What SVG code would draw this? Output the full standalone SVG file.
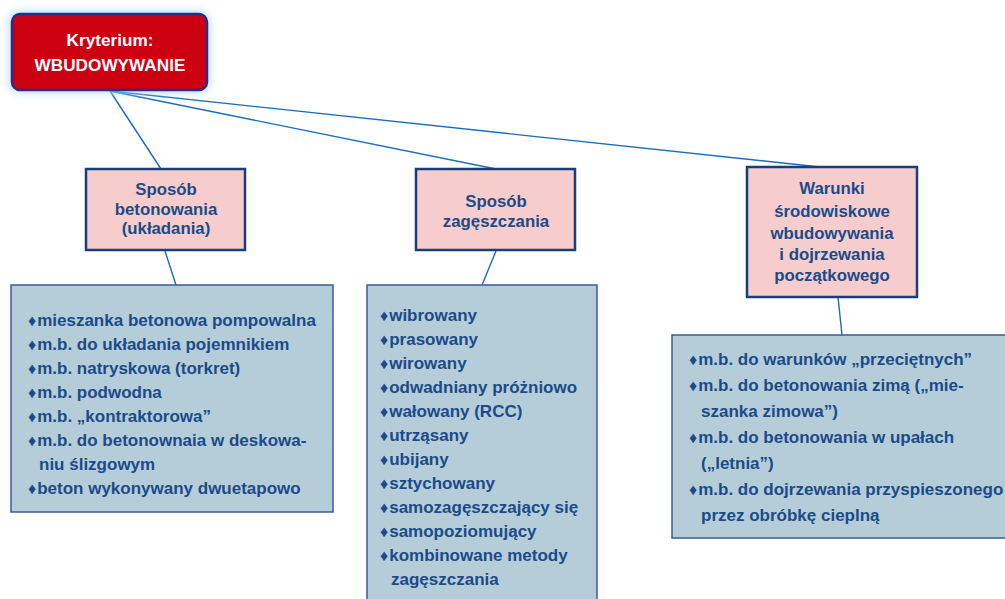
<svg xmlns="http://www.w3.org/2000/svg" width="1005" height="599" viewBox="0 0 1005 599">
<style>
text{font-family:"Liberation Sans",Arial,sans-serif;font-weight:bold;}
.t{fill:#ffffff;font-size:17.2px;text-anchor:middle;}
.h{fill:#1b4b88;font-size:16.8px;text-anchor:middle;}
.l{fill:#1b4b88;font-size:17px;}
.b{font-size:16px;}
.cat{fill:#f6cdcc;stroke:#173f7e;stroke-width:2.5;}
.lst{fill:#b5cdd9;stroke:#3a5c94;stroke-width:1.5;}
.c{stroke:#1a6dbd;stroke-width:1.4;fill:none;}
</style>
<defs>
<filter id="glow" x="-20%" y="-40%" width="140%" height="180%">
<feGaussianBlur stdDeviation="5"/>
</filter>
</defs>
<rect width="1005" height="599" fill="#ffffff"/>
<g id="connectors">
<line class="c" x1="110" y1="91" x2="161" y2="169"/>
<line class="c" x1="110" y1="91" x2="496" y2="169"/>
<line class="c" x1="110" y1="91" x2="820" y2="167"/>
<line class="c" x1="165" y1="251" x2="176" y2="285"/>
<line class="c" x1="496" y1="251" x2="482" y2="285"/>
<line class="c" x1="838" y1="297" x2="842" y2="335"/>
</g>
<g id="root">
<rect x="10" y="12" width="199" height="80" rx="9" fill="#a9dcf7" filter="url(#glow)"/>
<rect x="12" y="14" width="195" height="76" rx="8" fill="#cc0011" stroke="#2d2a88" stroke-width="2.5"/>
<text class="t" x="110" y="46">Kryterium:</text>
<text class="t" x="110" y="71">WBUDOWYWANIE</text>
</g>
<g id="cat1">
<rect class="cat" x="86" y="169" width="159" height="81"/>
<text class="h" x="166" y="195">Sposób</text>
<text class="h" x="166" y="215">betonowania</text>
<text class="h" x="166" y="234">(układania)</text>
</g>
<g id="cat2">
<rect class="cat" x="416" y="169" width="159" height="81"/>
<text class="h" x="496" y="207">Sposób</text>
<text class="h" x="496" y="227">zagęszczania</text>
</g>
<g id="cat3">
<rect class="cat" x="747" y="167" width="170" height="130"/>
<text class="h" x="832" y="194">Warunki</text>
<text class="h" x="832" y="217">środowiskowe</text>
<text class="h" x="832" y="239">wbudowywania</text>
<text class="h" x="832" y="260">i dojrzewania</text>
<text class="h" x="832" y="281">początkowego</text>
</g>
<g id="list1">
<rect class="lst" x="11" y="285" width="322" height="227"/>
<text class="l" x="28" y="326"><tspan class="b">♦</tspan><tspan dx="1">mieszanka betonowa pompowalna</tspan></text>
<text class="l" x="28" y="350"><tspan class="b">♦</tspan><tspan dx="1">m.b. do układania pojemnikiem</tspan></text>
<text class="l" x="28" y="374"><tspan class="b">♦</tspan><tspan dx="1">m.b. natryskowa (torkret)</tspan></text>
<text class="l" x="28" y="398"><tspan class="b">♦</tspan><tspan dx="1">m.b. podwodna</tspan></text>
<text class="l" x="28" y="422"><tspan class="b">♦</tspan><tspan dx="1">m.b. „kontraktorowa”</tspan></text>
<text class="l" x="28" y="446"><tspan class="b">♦</tspan><tspan dx="1">m.b. do betonownaia w deskowa-</tspan></text>
<text class="l" x="39" y="470">niu ślizgowym</text>
<text class="l" x="28" y="494"><tspan class="b">♦</tspan><tspan dx="1">beton wykonywany dwuetapowo</tspan></text>
</g>
<g id="list2">
<rect class="lst" x="367" y="285" width="230" height="330"/>
<text class="l" x="380" y="321"><tspan class="b">♦</tspan><tspan dx="1">wibrowany</tspan></text>
<text class="l" x="380" y="345"><tspan class="b">♦</tspan><tspan dx="1">prasowany</tspan></text>
<text class="l" x="380" y="369"><tspan class="b">♦</tspan><tspan dx="1">wirowany</tspan></text>
<text class="l" x="380" y="393"><tspan class="b">♦</tspan><tspan dx="1">odwadniany próżniowo</tspan></text>
<text class="l" x="380" y="417"><tspan class="b">♦</tspan><tspan dx="1">wałowany (RCC)</tspan></text>
<text class="l" x="380" y="441"><tspan class="b">♦</tspan><tspan dx="1">utrząsany</tspan></text>
<text class="l" x="380" y="465"><tspan class="b">♦</tspan><tspan dx="1">ubijany</tspan></text>
<text class="l" x="380" y="489"><tspan class="b">♦</tspan><tspan dx="1">sztychowany</tspan></text>
<text class="l" x="380" y="513"><tspan class="b">♦</tspan><tspan dx="1">samozagęszczający się</tspan></text>
<text class="l" x="380" y="537"><tspan class="b">♦</tspan><tspan dx="1">samopoziomujący</tspan></text>
<text class="l" x="380" y="561"><tspan class="b">♦</tspan><tspan dx="1">kombinowane metody</tspan></text>
<text class="l" x="391" y="585">zagęszczania</text>
</g>
<g id="list3">
<rect class="lst" x="672" y="335" width="345" height="203"/>
<text class="l" x="689" y="365"><tspan class="b">♦</tspan><tspan dx="1">m.b. do warunków „przeciętnych”</tspan></text>
<text class="l" x="689" y="391"><tspan class="b">♦</tspan><tspan dx="1">m.b. do betonowania zimą („mie-</tspan></text>
<text class="l" x="701" y="417">szanka zimowa”)</text>
<text class="l" x="689" y="443"><tspan class="b">♦</tspan><tspan dx="1">m.b. do betonowania w upałach</tspan></text>
<text class="l" x="701" y="469">(„letnia”)</text>
<text class="l" x="689" y="495"><tspan class="b">♦</tspan><tspan dx="1">m.b. do dojrzewania przyspieszonego</tspan></text>
<text class="l" x="701" y="521">przez obróbkę cieplną</text>
</g>
</svg>
